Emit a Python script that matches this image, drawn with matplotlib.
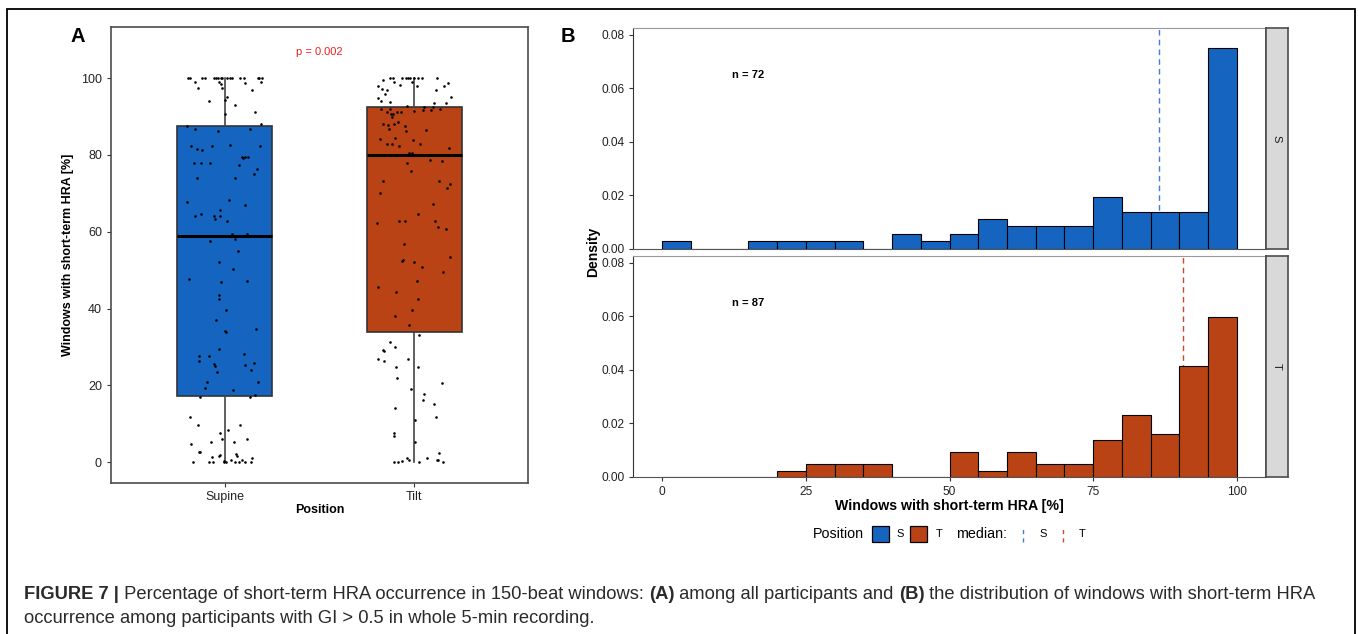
import numpy as np
import matplotlib.pyplot as plt
from matplotlib.patches import Rectangle
from matplotlib.lines import Line2D

plt.rcParams['font.family'] = ['Liberation Sans', 'DejaVu Sans']

# ---- panel A: box plot + jittered points ----
positions = ['Supine', 'Tilt']
box_q1 = [17.2, 33.8]
box_med = [59.0, 80.0]
box_q3 = [87.5, 92.6]
whisk_lo = [0.0, 0.0]
whisk_hi = [100.0, 100.0]
p_text = 'p = 0.002'

supine_y = [100]*17 + [98.9, 99.0, 98.5, 98.7, 99.1, 97.4, 97.4, 96.8, 95.0, 94.3, 94.0, 92.9, 91.3, 90.7,
            88.0, 87.4, 86.8, 86.8, 86.1, 82.7, 82.4, 82.2, 82.2, 81.5, 81.3, 79.4, 79.4, 79.4, 79.2,
            78.0, 78.0, 78.0, 77.4, 76.4, 75.0, 73.9, 73.9, 68.3, 67.7, 66.9, 65.7, 64.7, 64.1, 64.1,
            64.1, 63.4, 62.9, 59.5, 59.5, 58.0, 57.6, 55.1, 52.0, 50.4, 47.7, 47.3, 47.0, 43.5, 42.5,
            39.6, 37.0, 34.8, 34.1, 34.0, 29.5, 28.3, 27.7, 27.7, 26.4, 25.8, 25.6, 25.0, 25.3, 23.9,
            23.6, 20.9, 20.8, 19.3, 18.9, 17.6, 17.0, 17.0, 11.7, 9.6, 9.6, 8.4, 7.6, 6.1, 6.1, 5.4,
            5.4, 4.7, 2.7, 2.6, 2.2, 2.0, 1.6, 1.5, 1.3, 1.0, 0.6, 0.6, 0.2] + [0]*9
supine_dx = [-0.194, -0.185, -0.118, -0.102, -0.058, -0.048, -0.035, -0.021, -0.014, 0.014, 0.030, 0.039,
             0.079, 0.101, 0.173, 0.182, 0.198,
             -0.159, -0.030, -0.018, 0.106, 0.194, -0.141, -0.012, 0.145, 0.014, 0.004, -0.083, 0.056,
             0.159, 0.004, 0.192, -0.198, -0.159, 0.132, -0.035, 0.030, -0.069, -0.180, 0.185, -0.145,
             -0.118, 0.092, 0.109, 0.125, 0.097, -0.164, -0.123, -0.078, 0.074, 0.169, 0.153, -0.145,
             0.056, 0.023, -0.201, 0.108, -0.023, -0.125, -0.155, -0.055, -0.026, -0.049, 0.014, 0.120,
             0.039, 0.053, -0.079, 0.071, -0.028, 0.046, -0.190, 0.116, -0.021, -0.032, -0.028, 0.007,
             -0.046, 0.166, 0.002, 0.009, -0.030, 0.102, -0.134, -0.085, -0.136, 0.152, -0.058, -0.053,
             0.109, 0.136, -0.039, -0.092, 0.178, -0.102, 0.042, 0.162, -0.129, 0.134, -0.182, -0.139,
             0.078, 0.019, -0.025, -0.016, 0.116, -0.071, 0.048, -0.180, -0.136, -0.132, 0.058, -0.026,
             0.065, -0.032, -0.065, 0.143, 0.035, 0.093, -0.002,
             -0.168, -0.085, -0.062, -0.005, 0.007, 0.053, 0.076, 0.109, 0.136]

tilt_y = [100]*10 + [99.4, 99.0, 99.1, 98.6, 98.3, 98.0, 97.9, 97.9, 97.2, 96.9, 97.0, 95.8, 95.2, 94.8,
          94.0, 93.8, 93.6, 93.5, 92.8, 92.5, 92.5, 92.0, 92.0, 92.0, 91.7, 91.7, 91.4, 91.2, 91.2,
          91.2, 90.7, 90.7, 90.0, 88.7, 88.0, 88.0, 87.7, 87.4, 86.8, 86.4, 86.1, 84.4, 84.2, 83.8,
          82.9, 82.9, 82.9, 82.2, 81.8, 80.5, 80.4, 78.8, 78.4, 77.9, 75.9, 73.3, 73.3, 72.4, 71.4,
          70.0, 67.2, 64.7, 62.8, 62.9, 62.9, 62.4, 61.2, 60.8, 56.8, 53.4, 52.7, 52.3, 52.0, 50.7,
          49.5, 47.3, 45.7, 44.3, 42.6, 39.7, 38.2, 35.7, 33.0, 31.4, 30.1, 29.1, 29.0, 26.9, 26.8,
          26.3, 24.7, 24.7, 22.0, 20.6, 19.0, 17.8, 16.3, 15.1, 14.0, 11.7, 10.9, 7.6, 6.9, 5.2, 2.3,
          1.1, 1.1, 0.7, 0.6, 0.5, 0.4] + [0]*4
tilt_dx = [-0.129, -0.111, -0.067, -0.046, -0.035, -0.023, 0.0, 0.021, 0.039, 0.118,
           -0.164, -0.108, -0.014, 0.180, -0.076, 0.157, -0.190, 0.016, -0.171, -0.143, 0.113, -0.155,
           0.194, -0.190, -0.178, -0.129, 0.106, 0.168, -0.041, 0.053, 0.101, -0.178, -0.129, 0.136,
           0.046, 0.086, -0.002, -0.146, -0.092, -0.069, -0.125, -0.111, -0.120, -0.088, -0.164, -0.106,
           -0.139, -0.051, -0.131, 0.063, -0.046, -0.104, -0.182, -0.007, -0.143, -0.116, 0.030, -0.078,
           0.182, -0.026, -0.014, 0.081, 0.145, -0.041, -0.018, -0.164, 0.131, 0.189, 0.175, -0.182,
           0.097, 0.019, 0.109, -0.081, -0.051, -0.199, 0.125, 0.166, -0.056, 0.187, -0.058, -0.065,
           -0.002, 0.039, 0.153, 0.014, -0.194, -0.099, 0.019, -0.014, -0.104, -0.028, 0.025, -0.129,
           -0.104, -0.164, -0.160, -0.189, -0.034, -0.160, -0.097, 0.019, -0.093, 0.145, -0.016, 0.053,
           0.044, 0.104, -0.104, 0.113, 0.002, -0.106, -0.106, 0.004, 0.132, -0.037, 0.065, -0.026,
           0.118, 0.123, -0.067,
           -0.106, -0.088, 0.023, 0.153]

# ---- panel B: histograms (bin width 5, counts per bin) ----
bin_edges = list(range(0, 105, 5))
s_counts = [1, 0, 0, 1, 1, 1, 1, 0, 2, 1, 2, 4, 3, 3, 3, 7, 5, 5, 5, 27]
t_counts = [0, 0, 0, 0, 1, 2, 2, 2, 0, 0, 4, 1, 4, 2, 2, 6, 10, 7, 18, 26]
s_n, t_n = 72, 87
s_median, t_median = 86.4, 90.6

blue = '#1565C0'
red = '#B94315'
edge = '#333333'
s_line = '#3F7FD0'
t_line = '#C8482A'

fig = plt.figure(figsize=(13.58, 6.34), dpi=100)
W, H = 1358, 634

def fx(px):
    return px / W

def fy(py):
    return 1 - py / H

# outer frame
fig.add_artist(Rectangle((fx(7), -0.05), fx(1355) - fx(7), fy(9) + 0.05, transform=fig.transFigure,
                         fill=False, edgecolor='black', linewidth=1.3, clip_on=False))

# ---------------- panel A ----------------
axA = fig.add_axes([fx(111), fy(483), fx(528) - fx(111), fy(27) - fy(483)])
stats = []
for i in range(2):
    stats.append(dict(med=box_med[i], q1=box_q1[i], q3=box_q3[i],
                      whislo=whisk_lo[i], whishi=whisk_hi[i], fliers=[]))
bp = axA.bxp(stats, positions=[1, 2], widths=0.5, showcaps=False, showfliers=False,
             patch_artist=True,
             boxprops=dict(edgecolor=edge, linewidth=1.2),
             medianprops=dict(color='black', linewidth=2.2),
             whiskerprops=dict(color='#444444', linewidth=1.2))
for patch, c in zip(bp['boxes'], [blue, red]):
    patch.set_facecolor(c)

axA.scatter(1 + np.array(supine_dx), supine_y, s=3.5, color='black', zorder=5, linewidths=0)
axA.scatter(2 + np.array(tilt_dx), tilt_y, s=3.5, color='black', zorder=5, linewidths=0)

axA.set_xlim(0.4, 2.6)
axA.set_ylim(-5.4, 113.3)
axA.set_yticks([0, 20, 40, 60, 80, 100])
axA.set_xticks([1, 2])
axA.set_xticklabels(positions)
axA.tick_params(labelsize=9, colors='#333333', length=3, width=0.8, labelcolor='#222222')
axA.tick_params(axis='x', pad=2.5)
for sp in axA.spines.values():
    sp.set_color('#4d4d4d')
    sp.set_linewidth(1.2)
axA.set_xlabel('Position', fontsize=9, fontweight='bold', labelpad=1)
axA.set_ylabel('Windows with short-term HRA [%]', fontsize=9, fontweight='bold', labelpad=5)
axA.text(1.5, 106.9, p_text, color='#ee2222', fontsize=8, ha='center', va='center')
fig.text(fx(78), fy(37), 'A', fontsize=14.5, fontweight='bold', ha='center', va='center')

# ---------------- panel B ----------------
panels = [(28.3, 248.7, s_counts, s_n, s_median, blue, s_line, 'S'),
          (256, 476.7, t_counts, t_n, t_median, red, t_line, 'T')]
for top, bot, counts, n, med, col, mcol, lab in panels:
    ax = fig.add_axes([fx(633.3), fy(bot), fx(1265.7) - fx(633.3), fy(top) - fy(bot)])
    dens = np.array(counts) / (n * 5.0)
    ax.axvline(med, color=mcol, linestyle=(0, (4, 3)), linewidth=1.0, zorder=1)
    ax.bar(bin_edges[:-1], dens, width=5, align='edge', color=col, edgecolor='black',
           linewidth=0.8, zorder=2)
    ax.set_xlim(-5, 105)
    ax.set_ylim(0, 0.0825)
    ax.set_yticks([0, 0.02, 0.04, 0.06, 0.08])
    ax.set_yticklabels(['0.00', '0.02', '0.04', '0.06', '0.08'])
    ax.set_xticks([0, 25, 50, 75, 100])
    ax.tick_params(labelsize=8.6, colors='#333333', length=3, width=0.8, labelcolor='#222222')
    ax.spines['left'].set_color('#333333')
    ax.spines['bottom'].set_color('#555555')
    ax.spines['top'].set_color('#999999')
    ax.spines['right'].set_color('#4d4d4d')
    ax.spines['right'].set_linewidth(1.2)
    ax.text(15, 0.065, 'n = %d' % n, fontsize=8, fontweight='bold', ha='center', va='center')
    if lab == 'S':
        ax.tick_params(axis='x', length=0, labelbottom=False)
    else:
        ax.set_xlabel('Windows with short-term HRA [%]', fontsize=10.2, fontweight='bold', labelpad=1)
    # facet strip
    sax = fig.add_axes([fx(1265.7), fy(bot), fx(1287.7) - fx(1265.7), fy(top) - fy(bot)])
    sax.set_facecolor('#d9d9d9')
    sax.set_xticks([])
    sax.set_yticks([])
    for sp in sax.spines.values():
        sp.set_color('#4d4d4d')
        sp.set_linewidth(1.2)
    sax.text(0.5, 0.5, lab, rotation=-90, fontsize=8, color='#1a1a1a', ha='center', va='center',
             transform=sax.transAxes)

fig.text(fx(593), fy(252), 'Density', rotation=90, fontsize=10, fontweight='bold',
         ha='center', va='center')
fig.text(fx(568), fy(37), 'B', fontsize=14.5, fontweight='bold', ha='center', va='center')

# legend (drawn by hand, ggplot style)
ly = fy(534)
fig.text(fx(813), ly, 'Position', fontsize=10.3, ha='left', va='center')
for x0, c in [(871.5, blue), (910.5, red)]:
    fig.add_artist(Rectangle((fx(x0), fy(542)), fx(17), fy(526) - fy(542), transform=fig.transFigure,
                             facecolor=c, edgecolor='black', linewidth=0.9))
fig.text(fx(900), ly, 'S', fontsize=8, ha='center', va='center')
fig.text(fx(939), ly, 'T', fontsize=8, ha='center', va='center')
fig.text(fx(956.5), ly, 'median:', fontsize=10.3, ha='left', va='center')
for x0, c in [(1023.3, s_line), (1063.3, t_line)]:
    fig.add_artist(Line2D([fx(x0), fx(x0)], [fy(542), fy(526)], transform=fig.transFigure,
                          color=c, linestyle=(0, (3, 3)), linewidth=1.0))
fig.text(fx(1043), ly, 'S', fontsize=8, ha='center', va='center')
fig.text(fx(1082), ly, 'T', fontsize=8, ha='center', va='center')

# caption
cap_font = ['Liberation Sans Narrow', 'Liberation Sans', 'DejaVu Sans']
cap_size = 13.25
renderer = fig.canvas.get_renderer()

def rich_line(x, y, parts):
    for txt, bold in parts:
        t = fig.text(x, y, txt, fontsize=cap_size, family=cap_font, color='#2a2a2a',
                     fontweight='bold' if bold else 'normal', va='baseline', ha='left')
        bb = t.get_window_extent(renderer)
        x += bb.width / fig.bbox.width

rich_line(fx(24), fy(599), [('FIGURE 7 |', True),
                            (' Percentage of short-term HRA occurrence in 150-beat windows: ', False),
                            ('(A)', True), (' among all participants and ', False), ('(B)', True),
                            (' the distribution of windows with short-term HRA', False)])
rich_line(fx(24), fy(623), [('occurrence among participants with GI > 0.5 in whole 5-min recording.', False)])

fig.savefig('out.png', dpi=100)
